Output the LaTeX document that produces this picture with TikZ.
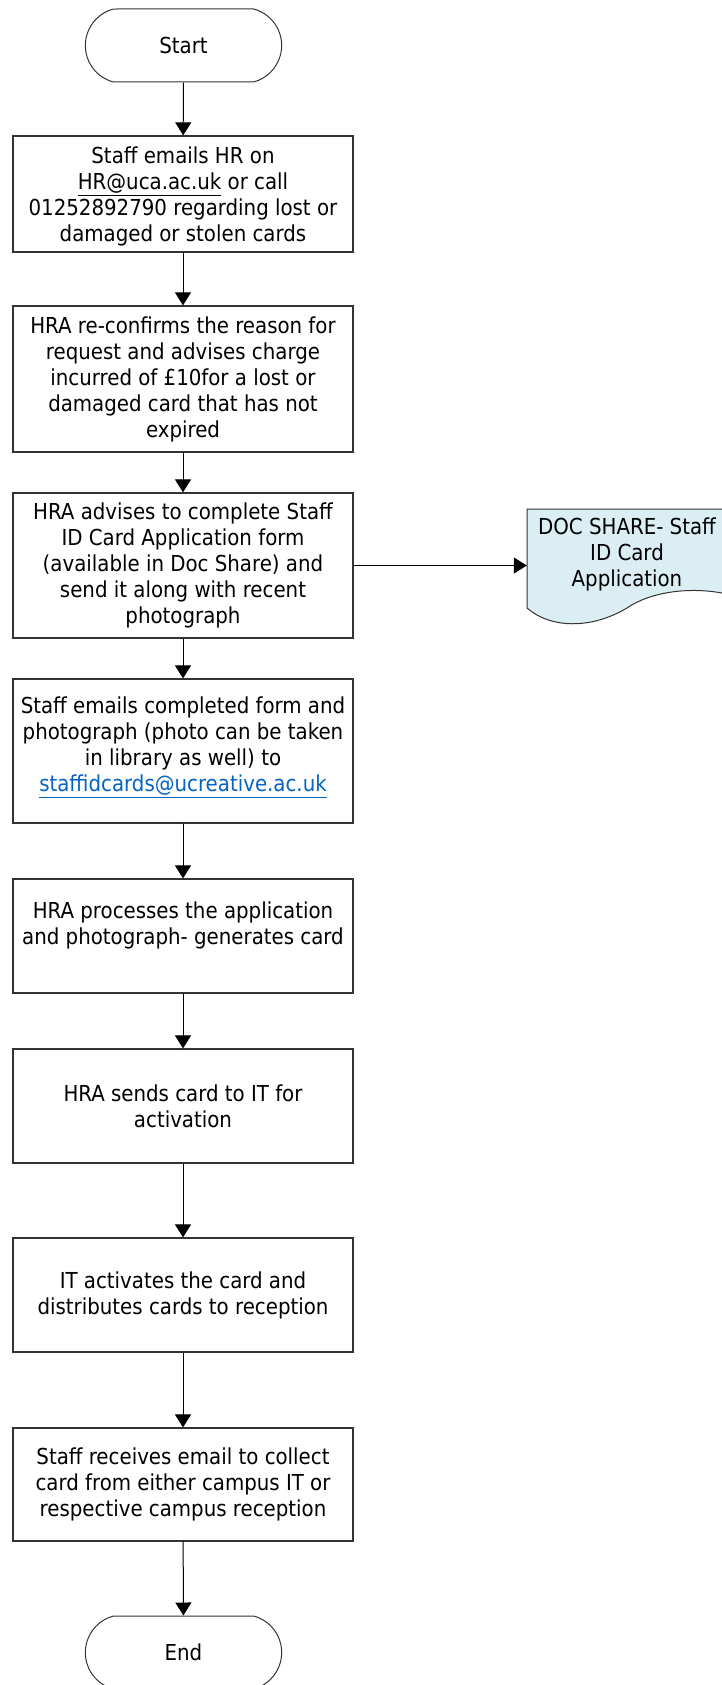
\documentclass[tikz,border=0pt]{standalone}
\usepackage{fontspec}
\setmainfont{DejaVu Sans Condensed}
\usetikzlibrary{shapes.misc,arrows.meta}
\definecolor{docblue}{HTML}{DBEEF4}
\definecolor{linkblue}{HTML}{0563C1}
\definecolor{edgegray}{HTML}{333333}
\tikzset{
	every node/.style={font=\fontsize{22pt}{26pt}\selectfont},
	proc/.style={draw=edgegray,line width=1.2pt,minimum width=340pt,align=center,inner sep=0pt},
	term/.style={draw=edgegray,line width=1pt,rounded rectangle,rounded rectangle arc length=150,minimum width=203pt,minimum height=73pt},
	flow/.style={line width=1pt,-{Triangle[length=13pt,width=16pt]}}
}

\begin{document}
\begin{tikzpicture}[x=1pt,y=-1pt]
		\useasboundingbox (0,0) rectangle (721,1685);
		\node[term] (start) at (183.5,45.5) {Start};
		\node[proc,minimum height=116pt] (hr) at (183,194) {\mbox{}\\[-4pt]Staff emails HR on\\\underline{HR@uca.ac.uk} or call\\01252892790 regarding lost or\\damaged or stolen cards};
		\node[proc,minimum height=146pt] (reason) at (183,379) {HRA re-confirms the reason for\\request and advises charge\\incurred of £10for a lost or\\damaged card that has not\\expired};
		\node[proc,minimum height=145pt] (form) at (183,565.5) {HRA advises to complete Staff\\ID Card Application form\\(available in Doc Share) and\\send it along with recent\\photograph};
		\node[proc,minimum height=144pt] (submit) at (183,751) {Staff emails completed form and\\photograph (photo can be taken\\in library as well) to\\\textcolor{linkblue}{\underline{staffidcards@ucreative.ac.uk}}\\[-13pt]\mbox{}};
		\node[proc,minimum height=114pt] (process) at (183,936) {HRA processes the application\\and photograph- generates card\\\mbox{}};
		\node[proc,minimum height=114pt] (toit) at (183,1106) {HRA sends card to IT for\\activation};
		\node[proc,minimum height=114pt] (activate) at (183,1295) {IT activates the card and\\distributes cards to reception};
		\node[proc,minimum height=113pt] (collect) at (183,1484.5) {Staff receives email to collect\\card from either campus IT or\\respective campus reception};
		\node[term] (stop) at (183.5,1652.5) {End};
		
		% document shape
		\draw[draw=edgegray,line width=1pt,fill=docblue] (527,509) -- (727,509) -- (727,594) .. controls (690,586) and (650,592) .. (627,608) .. controls (590,630) and (550,628) .. (527,608) -- cycle;
		\node[align=center,minimum width=200pt,minimum height=98pt,inner sep=0pt] (doc) at (627,554) {DOC SHARE- Staff\\ID Card\\Application};
		
		\foreach \a/\b in {start/hr,hr/reason,reason/form,form/submit,submit/process,process/toit,toit/activate,activate/collect,collect/stop}
		\draw[flow] (\a) -- (\b);
		\draw[flow] (form) -- (form -| doc.west);
	\end{tikzpicture}
\end{document}
